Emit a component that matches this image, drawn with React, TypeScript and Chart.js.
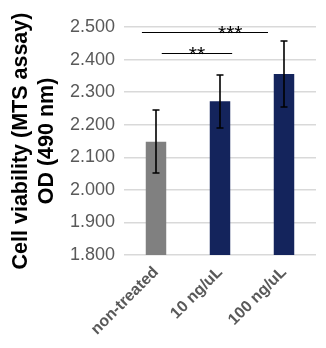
import React, { useEffect, useRef } from "react";
import { Chart, registerables } from "chart.js";

Chart.register(...registerables);

const categories = ["non-treated", "10 ng/uL", "100 ng/uL"];
const means = [2.148, 2.272, 2.356];
const errors = [0.097, 0.082, 0.101];
const yTicks = [1.8, 1.9, 2.0, 2.1, 2.2, 2.3, 2.4, 2.5];
const yTitle = ["Cell viability (MTS assay)", "OD (490 nm)"];

// significance brackets (in category index / data units)
const sigLabels = ["***", "**"];
const sigFrom = [-0.22, 0.09];
const sigTo = [1.75, 1.19];
const sigLevel = [2.486, 2.42];
const sigLabelAt = [1.16, 0.64];

const barColors = ["#808080", "#14245c", "#14245c"];
const FONT = "'Liberation Sans', Arial, sans-serif";

const overlayPlugin = {
  id: "overlay",
  afterDatasetsDraw(chart: any) {
    const { ctx, scales } = chart;
    const x = scales.x;
    const y = scales.y;
    const meta = chart.getDatasetMeta(0);
    ctx.save();
    ctx.strokeStyle = "#000";
    ctx.lineWidth = 1.6;
    meta.data.forEach((bar: any, i: number) => {
      const cx = Math.round(bar.x);
      const top = Math.round(y.getPixelForValue(means[i] + errors[i]));
      const bot = Math.round(y.getPixelForValue(means[i] - errors[i]));
      ctx.beginPath();
      ctx.moveTo(cx, top);
      ctx.lineTo(cx, bot);
      ctx.moveTo(cx - 3.5, top);
      ctx.lineTo(cx + 3.5, top);
      ctx.moveTo(cx - 3.5, bot);
      ctx.lineTo(cx + 3.5, bot);
      ctx.stroke();
    });
    const catW = x.width / categories.length;
    const x0 = x.getPixelForValue(0);
    ctx.lineWidth = 1.2;
    ctx.fillStyle = "#000";
    ctx.font = "21px " + FONT;
    ctx.textAlign = "center";
    ctx.textBaseline = "alphabetic";
    sigLabels.forEach((lab, i) => {
      const py = Math.round(y.getPixelForValue(sigLevel[i])) + 0.5;
      ctx.beginPath();
      ctx.moveTo(x0 + sigFrom[i] * catW, py);
      ctx.lineTo(x0 + sigTo[i] * catW, py);
      ctx.stroke();
      ctx.fillText(lab, x0 + sigLabelAt[i] * catW, py + 7);
    });
    ctx.restore();
  },
};

export default function App() {
  const ref = useRef<HTMLCanvasElement>(null);
  useEffect(() => {
    const chart = new Chart(ref.current!, {
      type: "bar",
      data: {
        labels: categories,
        datasets: [
          {
            data: means,
            backgroundColor: barColors,
            barPercentage: 0.32,
            categoryPercentage: 1,
          },
        ],
      },
      options: {
        animation: false,
        responsive: false,
        layout: { padding: { top: 27, right: 10, left: 0, bottom: 0 } },
        plugins: { legend: { display: false }, tooltip: { enabled: false } },
        scales: {
          x: {
            afterFit(scale: any) {
              scale.height = 93;
            },
            grid: { display: false, drawTicks: false },
            border: { display: false },
            ticks: {
              maxRotation: 45,
              minRotation: 45,
              color: "#595959",
              font: { size: 16, weight: "bold", family: FONT },
              padding: 8,
            },
          },
          y: {
            min: 1.8,
            max: 2.5,
            afterBuildTicks(scale: any) {
              scale.ticks = yTicks.map((v) => ({ value: v }));
            },
            afterFit(scale: any) {
              scale.width = 124;
            },
            grid: { color: "#d9d9d9", lineWidth: 1.5, drawTicks: false },
            border: { display: false },
            ticks: {
              color: "#595959",
              font: { size: 18, family: FONT },
              padding: 9,
              callback: (v: any) => Number(v).toFixed(3),
            },
            title: {
              display: true,
              text: yTitle,
              color: "#000",
              font: { size: 21.5, weight: "bold", family: FONT, lineHeight: 1.2 },
              padding: { top: 8, bottom: 0 },
            },
          },
        },
      },
      plugins: [overlayPlugin],
    });
    return () => chart.destroy();
  }, []);
  return (
    <div style={{ position: "fixed", left: 0, top: 0, width: 326, height: 348, background: "#fff" }}>
      <canvas ref={ref} width={326} height={348} style={{ display: "block" }} />
    </div>
  );
}
